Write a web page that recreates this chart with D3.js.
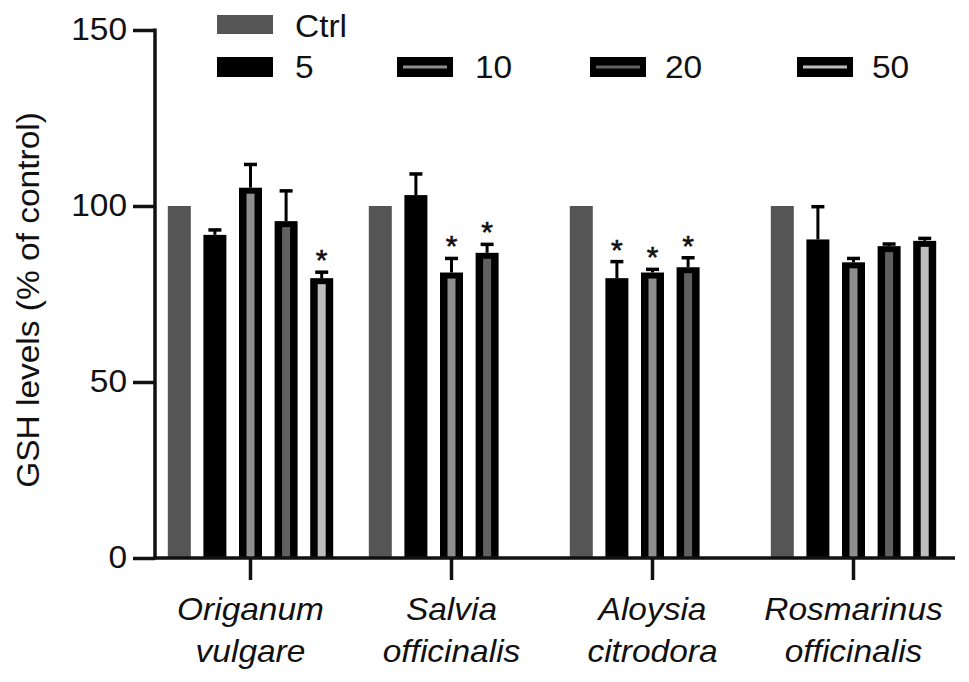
<!DOCTYPE html>
<html><head><meta charset="utf-8">
<script src="https://cdn.jsdelivr.net/npm/d3@7"></script>
<style>body{margin:0;background:#fff}svg{display:block}text{font-family:"Liberation Sans",Arial,sans-serif;fill:#111}</style>
</head><body><svg id="c" width="969" height="682"></svg>
<script>
const groups = [["Origanum","vulgare"],["Salvia","officinalis"],["Aloysia","citrodora"],["Rosmarinus","officinalis"]];
const series = ["Ctrl","5","10","20","50"];
const stripeColors = [null, null, "#8e8e8e", "#606060", "#bdbdbd"];
const ctrlColor = "#555555";
// values[group][series]
const means = [
  [100, 91.8, 105.2, 95.7, 79.5],
  [100, 103.1, 81.1, 86.7, null],
  [100, 79.5, 81.1, 82.6, null],
  [100, 90.5, 84.0, 88.6, 90.1]
];
const errTops = [
  [null, 93.2, 111.8, 104.3, 81.2],
  [null, 109.1, 85.1, 89.1, null],
  [null, 84.2, 82.0, 85.3, null],
  [null, 99.8, 85.1, 89.2, 90.8]
];
const stars = [
  [false,false,false,false,true],
  [false,false,true,true,false],
  [false,true,true,true,false],
  [false,false,false,false,false]
];
const yTicks = [0,50,100,150];

const FS = 31;
const svg = d3.select("#c");
const y = d3.scaleLinear().domain([0,150]).range([558,30]);
const x0 = d3.scaleBand().domain(d3.range(groups.length)).range([150,954]).padding(0);
const x1 = d3.scaleBand().domain(series).range([-82.7,82.7]).paddingInner(0.354).paddingOuter(0);
const bw = x1.bandwidth();

// y axis
const ya = svg.append("g").attr("transform","translate(155,0)")
  .call(d3.axisLeft(y).tickValues(yTicks).tickSize(22).tickPadding(6).tickSizeOuter(0));
ya.select(".domain").attr("stroke","#111").attr("stroke-width",3.5).attr("d","M0,"+(y(150)-1.5)+"V"+(y(0)+1.5));
ya.selectAll(".tick line").attr("stroke","#111").attr("stroke-width",3.5);
ya.selectAll(".tick text").attr("font-size",FS).attr("font-family","Liberation Sans, Arial").attr("fill","#111")
  .attr("transform","scale(1.08,1)").attr("x",-28/1.08);

// bars
const data = [];
groups.forEach((g,gi)=>series.forEach((s,si)=>{ if(means[gi][si]!=null) data.push({gi,si,s,v:means[gi][si],e:errTops[gi][si],star:stars[gi][si]}); }));
const gx = d=> x0(d.gi)+x0.bandwidth()/2 + x1(d.s);
const bars = svg.append("g");
data.forEach(d=>{
  const xl = gx(d);
  const top = y(d.v), bot = y(0);
  if(d.si===0){
    bars.append("rect").attr("x",xl).attr("y",top).attr("width",bw).attr("height",bot-top).attr("fill",ctrlColor);
  } else {
    bars.append("rect").attr("x",xl).attr("y",top).attr("width",bw).attr("height",bot-top).attr("fill","#000");
    if(stripeColors[d.si]) bars.append("rect").attr("x",xl+bw/2-4).attr("y",top+6).attr("width",8).attr("height",bot-top-6).attr("fill",stripeColors[d.si]);
  }
  if(d.e!=null){
    const cx = xl+bw/2;
    bars.append("line").attr("x1",cx).attr("x2",cx).attr("y1",top).attr("y2",y(d.e)).attr("stroke","#000").attr("stroke-width",3);
    bars.append("line").attr("x1",cx-6.5).attr("x2",cx+6.5).attr("y1",y(d.e)).attr("y2",y(d.e)).attr("stroke","#000").attr("stroke-width",3.5);
  }
  if(d.star){
    bars.append("text").attr("x",xl+bw/2).attr("y",y(d.e)-2).attr("text-anchor","middle").attr("font-size",30).attr("stroke","#111").attr("stroke-width",0.6).text("*");
  }
});

// x axis
const xa = svg.append("g").attr("transform","translate(0,558)")
  .call(d3.axisBottom(x0).tickSize(22).tickFormat(""));
xa.select(".domain").attr("d","M153.3,0H955").attr("stroke","#111").attr("stroke-width",3.5);
xa.selectAll(".tick line").attr("stroke","#111").attr("stroke-width",3.5);
xa.selectAll(".tick").each(function(d){
  const t = d3.select(this);
  const g2 = t.append("g").attr("transform","scale(1.08,1)");
  g2.append("text").attr("y",62).attr("text-anchor","middle").attr("font-size",FS).attr("font-style","italic").attr("fill","#111").text(groups[d][0]);
  g2.append("text").attr("y",104).attr("text-anchor","middle").attr("font-size",FS).attr("font-style","italic").attr("fill","#111").text(groups[d][1]);
});

// y title
svg.append("text").attr("transform","translate(39,300) rotate(-90) scale(1.08,1)").attr("text-anchor","middle").attr("font-size",FS).text("GSH levels (% of control)");

// legend
const legPos = [[217,15],[217,57],[397,57],[590,57],[797,57]];
series.forEach((s,i)=>{
  const [lx,ly] = legPos[i];
  const g = svg.append("g").attr("transform",`translate(${lx},${ly})`);
  if(i===0){
    g.append("rect").attr("width",56).attr("height",19).attr("fill",ctrlColor);
  } else {
    g.append("rect").attr("width",56).attr("height",20).attr("fill","#000");
    if(stripeColors[i]) g.append("rect").attr("x",6).attr("y",8.5).attr("width",44).attr("height",3).attr("fill",stripeColors[i]);
  }
  g.append("text").attr("transform",`translate(${i>=3?75:78},${i===0?22:21}) scale(1.08,1)`).attr("font-size",FS).text(s);
});
</script></body></html>
